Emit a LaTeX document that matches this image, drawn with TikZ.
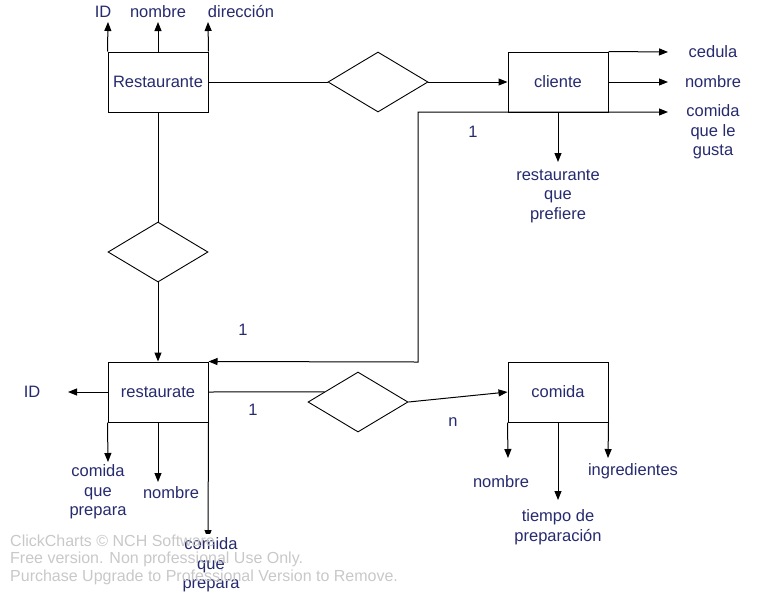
\documentclass[tikz,border=0pt]{standalone}
\usepackage{fontspec}
\setmainfont{Liberation Sans}
\usetikzlibrary{shapes.geometric,arrows.meta,calc}
\definecolor{txt}{RGB}{38,42,110}
\definecolor{wm}{RGB}{200,200,200}
\begin{document}
\begin{tikzpicture}[x=1pt,y=-1pt,
  ent/.style={draw,line width=1pt,minimum width=100pt,minimum height=60pt,inner sep=0pt,text=txt,font=\fontsize{16.5}{19}\selectfont},
  rel/.style={draw,line width=0.9pt,diamond,minimum width=100pt,minimum height=60pt,inner sep=0pt},
  lbl/.style={text=txt,font=\fontsize{16.5}{19.5}\selectfont,align=center,inner sep=0pt},
  wmk/.style={text=wm,font=\fontsize{16}{18}\selectfont,anchor=west,inner sep=0pt},
  con/.style={line width=1pt},
  arr/.style={con,-{Triangle[length=9pt,width=7pt]}},
  arrb/.style={con,{Triangle[length=9pt,width=7pt]}-{Triangle[length=9pt,width=7pt]}}]
\useasboundingbox (0,0) rectangle (759,595);
% entities
\node[ent] (R) at (158,82) {Restaurante};
\node[ent] (C) at (558,82) {cliente};
\node[ent] (r) at (158,392) {restaurate};
\node[ent] (F) at (558,392) {comida};
% relations
\node[rel] (d1) at (378,82) {};
\node[rel] (d2) at (158,252) {};
\node[rel] (d3) at (358,402) {};
% relation connectors
\draw[con] (R.east) -- (d1.west);
\draw[arr] (d1.east) -- (C.west);
\draw[con] (R.south) -- (d2.north);
\draw[arr] (d2.south) -- (r.north);
\draw[con] (r.east) -- (d3.163.3);
\draw[arr] (d3.east) -- (F.west);
\coordinate (k1) at (418,362);
\coordinate (k2) at (668,112);
\draw[arrb] (r.north east) -- (k1) |- (k2);
% Restaurante attributes
\coordinate (a1) at (108,22);
\coordinate (a2) at (158,22);
\coordinate (a3) at (208,22);
\draw[arr] (R.north west) -- (a1);
\draw[arr] (R.north) -- (a2);
\draw[arr] (R.north east) -- (a3);
\node[lbl] (t1) at (103,12) {ID};
\node[lbl] (t2) at (158,12) {nombre};
\node[lbl] (t3) at (241,12) {dirección};
% cliente attributes
\coordinate (b1) at (668,52);
\coordinate (b2) at (668,82);
\coordinate (b3) at (558,162);
\draw[arr] (C.north east) -- (b1);
\draw[arr] (C.east) -- (b2);
\draw[arr] (C.south) -- (b3);
\node[lbl] (u1) at (713,52) {cedula};
\node[lbl] (u2) at (713,82) {nombre};
\node[lbl] (u3) at (713,132) {comida\\que le\\gusta};
\node[lbl] (u4) at (558,196) {restaurante\\que\\prefiere};
% restaurate attributes
\coordinate (c1) at (68,392);
\coordinate (c2) at (108,462);
\coordinate (c3) at (158,482);
\coordinate (c4) at (208,539);
\draw[arr] (r.west) -- (c1);
\draw[arr] (r.south west) -- (c2);
\draw[arr] (r.south) -- (c3);
\draw[arr] (r.south east) -- (c4);
\node[lbl] (v1) at (32,392) {ID};
\node[lbl] (v2) at (98,492) {comida\\que\\prepara};
\node[lbl] (v3) at (171,493) {nombre};
\node[lbl,fill=white,inner ysep=4pt] (v4) at (211,565) {comida\\que\\prepara};
% comida attributes
\coordinate (e1) at (508,458);
\coordinate (e2) at (558,500);
\coordinate (e3) at (608,458);
\draw[arr] (F.south west) -- (e1);
\draw[arr] (F.south) -- (e2);
\draw[arr] (F.south east) -- (e3);
\node[lbl] (w1) at (501,482) {nombre};
\node[lbl] (w3) at (633,471) {ingredientes};
\node[lbl] (w2) at (558,527) {tiempo de\\preparación};
% cardinalities
\node[lbl] (n1) at (473,132) {1};
\node[lbl] (n2) at (243,330) {1};
\node[lbl] (n3) at (253,410) {1};
\node[lbl] (n4) at (453,422) {n};
% watermark
\node[wmk] (m1) at (10,541) {ClickCharts © NCH Software};
\node[wmk] (m2) at (10,559) {Free version. Non professional Use Only.};
\node[wmk] (m3) at (10,577) {Purchase Upgrade to Professional Version to Remove.};
\end{tikzpicture}
\end{document}
